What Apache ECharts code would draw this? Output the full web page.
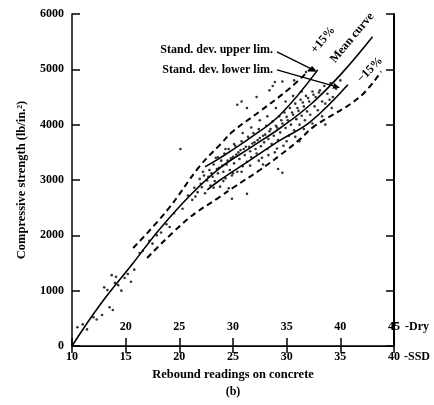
<!DOCTYPE html>
<html><head><meta charset="utf-8">
<script src="https://cdn.jsdelivr.net/npm/echarts@6/dist/echarts.min.js"></script>
<style>html,body{margin:0;padding:0;background:#fff}#c{width:434px;height:405px}</style>
</head><body><div id="c"></div>
<script>
// ---- data (x = rebound reading, SSD scale; y = lb/in.^2) ----
const yTicks = [0, 1000, 2000, 3000, 4000, 5000, 6000];
const ssdTicks = [10, 15, 20, 25, 30, 35, 40];
const dryTicks = [20, 25, 30, 35, 40, 45];
const meanCurve = [[10,0],[12.6,740],[15.7,1500],[18.2,2120],[21.2,2760],[23.8,3220],[26.6,3580],[29.4,3940],[32.2,4360],[35.0,4900],[38.0,5590]];
const upperStd = [[22.4,3240],[23.8,3400],[26.6,3760],[29.4,4180],[32.9,4990]];
const lowerStd = [[22.6,2820],[23.8,3000],[26.6,3360],[29.4,3720],[32.2,4050],[35.7,4720]];
const plus15 = [[15.7,1770],[18.9,2460],[21.9,3250],[23.8,3640],[25.0,3880],[27.5,4240],[30.3,4660],[32.6,5080]];
const minus15 = [[17.0,1590],[20.7,2280],[23.8,2700],[25.0,2860],[27.5,3180],[29.4,3450],[31.2,3730],[32.5,3960],[36.8,4500],[38.8,4960]];
const tests = [
 [10.5,340],[11.0,390],[11.4,300],[12.0,520],[12.3,480],[12.8,560],[13.0,1060],[13.3,1010],[13.5,700],[13.8,650],
 [13.7,1280],[14.1,1250],[14.3,1100],[14.0,1140],[14.6,1000],[14.9,1230],[15.2,1300],[15.5,1160],[15.8,1380],[16.3,1680],
 [16.6,1720],[17.2,1900],[17.5,1850],[17.9,2000],[18.3,2050],[18.8,2200],[19.1,2150],[19.5,2400],[20.1,3560],
 [20.3,2480],[20.8,2720],[21.2,2640],[21.4,2860],[21.7,2780],[21.9,3020],[22.1,2870],[22.3,3080],[22.4,2760],[22.6,2990],
 [22.8,3180],[22.9,2900],[23.1,3060],[23.2,3280],[23.3,2980],[23.4,3400],[23.6,3120],[23.7,3220],[23.8,2880],[23.9,3350],
 [24.1,3150],[24.2,3480],[24.3,3030],[24.4,3280],[24.6,3560],[24.7,3180],[24.8,3390],[24.9,3080],[25.1,3300],[25.2,3620],
 [25.3,3460],[25.4,3150],[25.6,3380],[25.7,3540],[25.8,3700],[25.9,3250],[26.1,3450],[26.2,3600],[26.3,3330],[26.4,3780],
 [26.6,3520],[26.7,3410],[26.8,3660],[26.9,3850],[27.1,3560],[27.2,3480],[27.3,3720],[27.4,3920],[27.6,3610],[27.7,3400],
 [27.8,3800],[27.9,3680],[28.1,3980],[28.2,3560],[28.3,3740],[28.4,3880],[28.6,3650],[28.7,4060],[28.8,3800],[28.9,3500],
 [29.1,3950],[29.2,3720],[29.3,4150],[29.4,3860],[29.6,4020],[29.7,3620],[29.8,4220],[29.9,3940],[30.1,4080],[30.2,3800],
 [30.3,4300],[30.4,4000],[30.6,4180],[30.7,3900],[30.8,4380],[30.9,4100],[31.1,4250],[31.2,4000],[31.3,4450],[31.4,4160],
 [31.6,4330],[31.7,4080],[31.8,4520],[31.9,4240],[32.1,4420],[32.2,4180],[32.4,4600],[32.6,4330],[32.7,4500],[32.9,4260],
 [33.1,4620],[33.3,4420],[33.5,4700],[33.6,4380],[33.8,4560],[34.1,4750],[34.3,4500],[34.6,4650],[35.0,4800],[34.0,4450],
 [21.5,2700],[22.0,2930],[22.7,3060],[23.0,3120],[23.5,3200],[24.0,3260],[24.5,3350],[25.0,3420],[25.5,3500],[26.0,3560],
 [26.5,3600],[27.0,3680],[27.5,3760],[28.0,3820],[28.5,3920],[29.0,3980],[29.5,4080],[30.0,4140],[30.5,4220],[31.0,4300],
 [31.5,4400],[32.0,4480],[32.5,4540],[33.0,4580],[22.2,3150],[23.6,3410],[24.3,3560],[25.1,3650],[25.9,3850],[26.7,3950],
 [27.5,4080],[28.2,4150],[29.0,4300],[29.9,4420],[30.6,4520],[31.4,4600],[23.2,2860],[24.1,2980],[25.0,3120],[25.8,3150],
 [26.6,3260],[27.4,3350],[28.3,3450],[29.1,3570],[30.0,3700],[30.8,3780],[31.6,3920],[32.4,4020],[33.3,4150],[34.2,4300],
 [25.4,4360],[26.3,4300],[28.7,4700],[28.9,4770],[29.6,4780],[24.9,2660],[26.3,2750],[29.6,3130],[29.2,3200],[31.2,3700],
 [25.8,4420],[27.2,4500],[28.4,4620],[30.7,4800],[31.8,4950],[33.6,4000],[24.6,2850],[27.8,3280]
];
const FONT = 'Liberation Serif';
const chart = echarts.init(document.getElementById('c'), null, {renderer: 'canvas'});
const lbl = {fontFamily: FONT, fontWeight: 'bold', fontSize: 12, color: '#000'};
chart.setOption({
  animation: false,
  backgroundColor: '#fff',
  grid: {left: 72, right: 40, top: 14, bottom: 59},
  xAxis: [
    {type: 'value', position: 'bottom', min: 10, max: 40, interval: 5,
     axisLine: {lineStyle: {color: '#000', width: 1.5}},
     axisTick: {inside: true, length: 8, lineStyle: {color: '#000', width: 1.5}},
     axisLabel: Object.assign({margin: 5, formatter: v => ssdTicks.includes(v) ? String(v) : ''}, lbl),
     splitLine: {show: false},
     name: 'Rebound readings on concrete', nameLocation: 'middle', nameGap: 21,
     nameTextStyle: Object.assign({}, lbl, {fontSize: 12.5})},
    {type: 'value', position: 'top', min: 10, max: 40, interval: 5,
     axisLine: {lineStyle: {color: '#000', width: 1}},
     axisTick: {inside: true, length: 7, lineStyle: {color: '#000', width: 1.5}},
     axisLabel: {show: false}, splitLine: {show: false}},
    {type: 'value', position: 'bottom', min: 15, max: 45, interval: 5,
     axisLine: {show: false}, axisTick: {show: false}, splitLine: {show: false},
     axisLabel: Object.assign({inside: true, margin: 13, formatter: v => dryTicks.includes(v) ? String(v) : ''}, lbl)}
  ],
  yAxis: [
    {type: 'value', position: 'left', min: 0, max: 6000, interval: 1000,
     axisLine: {show: true, lineStyle: {color: '#000', width: 1.5}},
     axisTick: {show: true, inside: true, length: 8, lineStyle: {color: '#000', width: 1.5}},
     axisLabel: Object.assign({margin: 8, formatter: v => yTicks.includes(v) ? String(v) : ''}, lbl),
     splitLine: {show: false},
     name: 'Compressive strength (lb/in.²)', nameLocation: 'middle', nameGap: 44,
     nameTextStyle: Object.assign({}, lbl, {fontSize: 12.5})},
    {type: 'value', position: 'right', min: 0, max: 6000, interval: 1000,
     axisLine: {show: true, lineStyle: {color: '#000', width: 2}},
     axisTick: {show: true, inside: true, length: 8, lineStyle: {color: '#000', width: 1.5}},
     axisLabel: {show: false}, splitLine: {show: false}}
  ],
  series: [
    {type: 'scatter', name: 'tests', data: tests, symbol: 'circle', symbolSize: 2.6,
     itemStyle: {color: '#000'}, z: 3},
    {type: 'line', name: 'Mean curve', data: meanCurve, smooth: 0.4, showSymbol: false,
     lineStyle: {color: '#000', width: 1.6}},
    {type: 'line', name: 'Stand. dev. upper lim.', data: upperStd, smooth: 0.4, showSymbol: false,
     lineStyle: {color: '#000', width: 1.6}},
    {type: 'line', name: 'Stand. dev. lower lim.', data: lowerStd, smooth: 0.4, showSymbol: false,
     lineStyle: {color: '#000', width: 1.6}},
    {type: 'line', name: '+15%', data: plus15, smooth: 0.4, showSymbol: false,
     lineStyle: {color: '#000', width: 2, type: [6, 4]}},
    {type: 'line', name: '-15%', data: minus15, smooth: 0.4, showSymbol: false,
     lineStyle: {color: '#000', width: 2, type: [6, 4]}}
  ]
});

// ---- annotations anchored in data coordinates ----
const P = (x, y) => chart.convertToPixel({xAxisIndex: 0, yAxisIndex: 0}, [x, y]);
function arrow(from, to) {
  const a = P(from[0], from[1]), b = P(to[0], to[1]);
  const ang = Math.atan2(b[1] - a[1], b[0] - a[0]);
  const L = 7, W = 3;
  const bx = b[0] - L * Math.cos(ang), by = b[1] - L * Math.sin(ang);
  return [
    {type: 'line', shape: {x1: a[0], y1: a[1], x2: bx, y2: by}, style: {stroke: '#000', lineWidth: 1.3}},
    {type: 'polygon', shape: {points: [[b[0], b[1]],
      [bx + W * Math.sin(ang), by - W * Math.cos(ang)],
      [bx - W * Math.sin(ang), by + W * Math.cos(ang)]]}, style: {fill: '#000'}}
  ];
}
function txt(text, at, opts) {
  const p = P(at[0], at[1]);
  return Object.assign({type: 'text', x: p[0], y: p[1],
    style: {text: text, font: 'bold 12px "' + FONT + '"', fill: '#000',
      align: (opts && opts.align) || 'center', verticalAlign: 'middle'}},
    opts && opts.rot ? {rotation: opts.rot * Math.PI / 180} : {});
}
const g = [];
g.push(txt('Stand. dev. upper lim.', [28.73, 5353], {align: 'right'}));
g.push(txt('Stand. dev. lower lim.', [28.73, 4991], {align: 'right'}));
g.push(...arrow([29.1, 5316], [32.83, 4955]));
g.push(...arrow([29.1, 4991], [34.97, 4665]));
g.push(txt('+15%', [33.4, 5533], {rot: 50}));
g.push(txt('Mean curve', [36.1, 5570], {rot: 50}));
g.push(txt('\u221215%', [37.77, 4991], {rot: 46}));
const s40 = P(40, 0);
g.push({type: 'text', x: s40[0] + 10, y: s40[1] + 11, style: {text: '-SSD', font: 'bold 12px "' + FONT + '"', fill: '#000', align: 'left', verticalAlign: 'middle'}});
g.push({type: 'text', x: s40[0] + 11, y: s40[1] - 19, style: {text: '-Dry', font: 'bold 12px "' + FONT + '"', fill: '#000', align: 'left', verticalAlign: 'middle'}});
g.push({type: 'text', x: 233, y: 392, style: {text: '(b)', font: 'bold 12px "' + FONT + '"', fill: '#000', align: 'center', verticalAlign: 'middle'}});
chart.setOption({graphic: g});
</script>
</body></html>
